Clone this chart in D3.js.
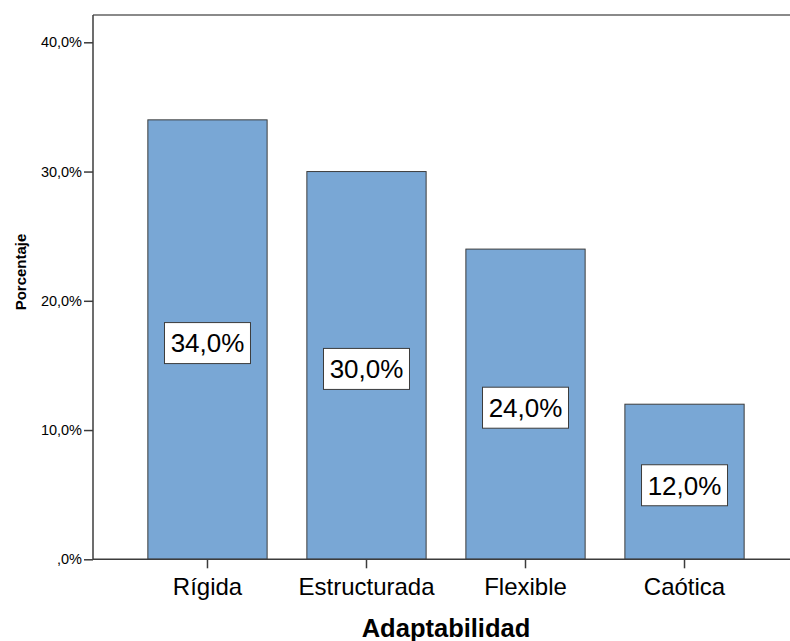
<!DOCTYPE html>
<html>
<head>
<meta charset="utf-8">
<script src="https://cdn.jsdelivr.net/npm/d3@7"></script>
<style>
  body { margin: 0; background: #fff; }
  text { font-family: Arial, "Liberation Sans", sans-serif; fill: #000; }
</style>
</head>
<body>
<div id="chart"></div>
<script>
// --- données ---
const categories = ["Rígida", "Estructurada", "Flexible", "Caótica"];
const porcentajes = [34.0, 30.0, 24.0, 12.0];
const ticksY = [0, 10, 20, 30, 40];

const largeur = 790, hauteur = 641;
const gauche = 93, droite = 799, haut = 15, bas = 559.3;

const svg = d3.select("#chart").append("svg")
    .attr("width", largeur)
    .attr("height", hauteur);

const x = d3.scaleBand()
    .domain(categories)
    .range([gauche, droite])
    .paddingInner(0.25)
    .paddingOuter(0.345);

const y = d3.scaleLinear()
    .domain([0, 40])
    .range([bas, 42.3]);

const fmt = v => (v === 0 ? "" : String(Math.floor(v))) + "," + (v.toFixed(1).split(".")[1]) + "%";

// cadre du haut
svg.append("line")
    .attr("x1", gauche).attr("x2", droite)
    .attr("y1", haut).attr("y2", haut)
    .attr("stroke", "#8a8a8a").attr("stroke-width", 2);

// barres
svg.append("g").selectAll("rect")
    .data(porcentajes)
    .join("rect")
    .attr("x", (d, i) => x(categories[i]))
    .attr("y", d => y(d))
    .attr("width", x.bandwidth())
    .attr("height", d => y(0) - y(d))
    .attr("fill", "#79a7d5")
    .attr("stroke", "#3c3c3c")
    .attr("stroke-width", 1);

// axe Y
const axeY = svg.append("g").attr("transform", `translate(${gauche},0)`)
    .call(d3.axisLeft(y).tickValues(ticksY).tickSize(9).tickPadding(2).tickFormat(fmt));
axeY.select(".domain").attr("d", `M0,${haut}V${bas}`).attr("stroke", "#3c3c3c").attr("stroke-width", 1.5);
axeY.selectAll(".tick line").attr("stroke", "#3c3c3c").attr("stroke-width", 1.5);
axeY.selectAll(".tick text").attr("font-size", "14.5px").attr("font-family", "Arial, 'Liberation Sans', sans-serif").attr("fill", "#000");

// axe X
const axeX = svg.append("g").attr("transform", `translate(0,${bas})`)
    .call(d3.axisBottom(x).tickSize(9).tickPadding(10));
axeX.select(".domain").attr("d", `M${gauche},0H${droite}`).attr("stroke", "#3c3c3c").attr("stroke-width", 1.5);
axeX.selectAll(".tick line").attr("stroke", "#3c3c3c").attr("stroke-width", 1.5);
axeX.selectAll(".tick text").attr("font-size", "24px").attr("font-family", "Arial, 'Liberation Sans', sans-serif").attr("fill", "#000");

// étiquettes des barres
const etiquettes = svg.append("g").selectAll("g")
    .data(porcentajes)
    .join("g")
    .attr("transform", (d, i) => `translate(${x(categories[i]) + x.bandwidth() / 2},${(y(d) + y(0)) / 2 + 3.5})`);
etiquettes.append("rect")
    .attr("x", -43).attr("y", -20.5)
    .attr("width", 86).attr("height", 41)
    .attr("fill", "#fff").attr("stroke", "#3c3c3c").attr("stroke-width", 1);
etiquettes.append("text")
    .attr("text-anchor", "middle")
    .attr("dy", "0.36em")
    .attr("font-size", "26px")
    .text(d => fmt(d));

// titres des axes
svg.append("text")
    .attr("x", (gauche + droite) / 2)
    .attr("y", 637)
    .attr("text-anchor", "middle")
    .attr("font-size", "25.5px")
    .attr("font-weight", "bold")
    .text("Adaptabilidad");

svg.append("text")
    .attr("transform", "translate(26,272) rotate(-90)")
    .attr("text-anchor", "middle")
    .attr("font-size", "15px")
    .attr("font-weight", "bold")
    .text("Porcentaje");
</script>
</body>
</html>
